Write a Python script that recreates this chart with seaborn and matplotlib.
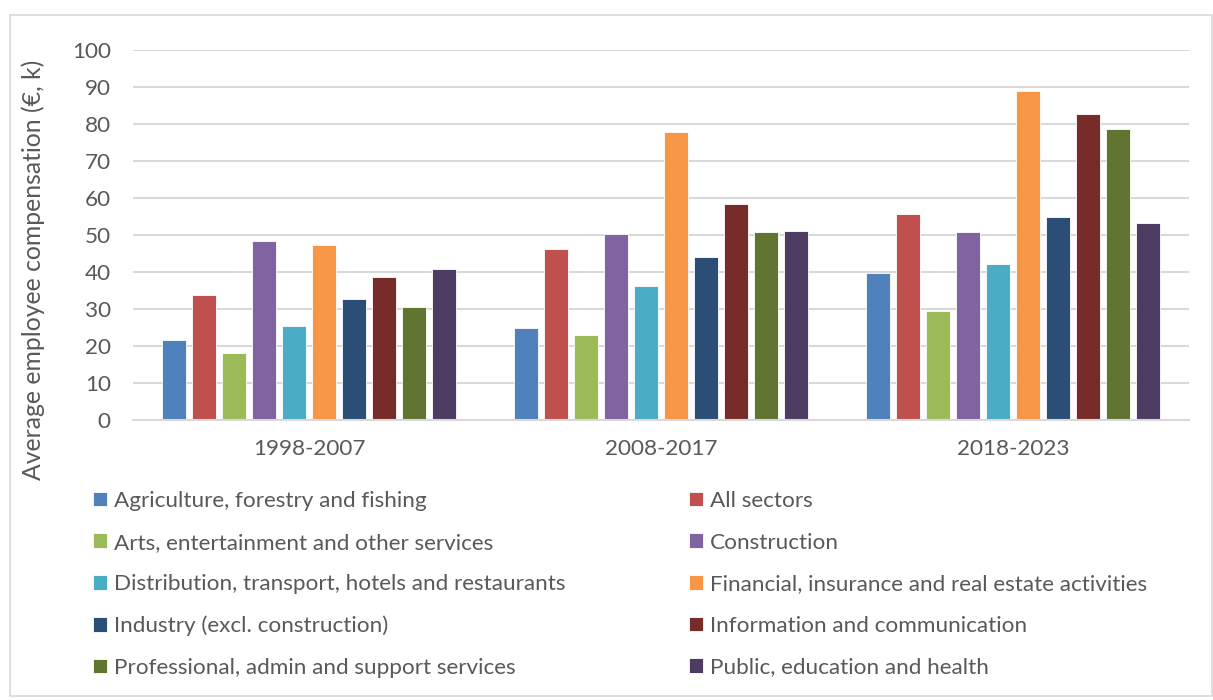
import matplotlib
matplotlib.use("Agg")
import matplotlib.pyplot as plt
from matplotlib.patches import Rectangle
import seaborn as sns
import pandas as pd

periods = ["1998-2007", "2008-2017", "2018-2023"]
sectors = [
    "Agriculture, forestry and fishing",
    "All sectors",
    "Arts, entertainment and other services",
    "Construction",
    "Distribution, transport, hotels and restaurants",
    "Financial, insurance and real estate activities",
    "Industry (excl. construction)",
    "Information and communication",
    "Professional, admin and support services",
    "Public, education and health",
]
agriculture = [21.6, 24.8, 39.7]
all_sectors = [33.7, 46.1, 55.6]
arts = [18.0, 23.1, 29.4]
construction = [48.5, 50.3, 50.7]
distribution = [25.4, 36.2, 42.1]
financial = [47.2, 77.8, 89.0]
industry = [32.6, 44.1, 55.0]
information = [38.6, 58.3, 82.7]
professional = [30.6, 50.7, 78.7]
public = [40.7, 51.0, 53.2]

colors = ["#4F81BD", "#C0504D", "#9BBB59", "#8064A2", "#4BACC6",
          "#F79646", "#2C4D75", "#772C2A", "#5F7530", "#4D3B62"]

series = [agriculture, all_sectors, arts, construction, distribution,
          financial, industry, information, professional, public]
rows = []
for name, vals in zip(sectors, series):
    for p, v in zip(periods, vals):
        rows.append({"period": p, "sector": name, "value": v})
df = pd.DataFrame(rows)

sns.set_theme(style="white")
plt.rcParams["font.family"] = ["Lato", "DejaVu Sans"]
TXT = "#595959"
FS = 16.2

fig = plt.figure(figsize=(12.13, 7.0), dpi=100)
ax = fig.add_axes([133 / 1213, 1 - 420 / 700, (1189 - 133) / 1213, 370 / 700])

sns.barplot(data=df, x="period", y="value", hue="sector", order=periods,
            hue_order=sectors, palette=colors, saturation=1, width=0.85,
            gap=0.2, edgecolor="white", linewidth=0.6, ax=ax, legend=True)

ax.set_ylim(0, 100)
ax.set_yticks(range(0, 101, 10))
ax.yaxis.grid(True, color="#d9d9d9", linewidth=1.5)
ax.set_axisbelow(True)
for s in ["top", "right", "left"]:
    ax.spines[s].set_visible(False)
ax.spines["bottom"].set_color("#d9d9d9")
ax.spines["bottom"].set_linewidth(1.5)
ax.tick_params(axis="y", length=0, pad=16, labelsize=FS, labelcolor=TXT)
ax.tick_params(axis="x", length=0, pad=14, labelsize=FS, labelcolor=TXT)
ax.set_xlabel("")
ax.set_ylabel("")
fig.text(33 / 1213, 1 - 270 / 700, "Average employee compensation (€, k)",
         rotation=90, ha="center", va="center", fontsize=17.8, color=TXT)

handles, labels = ax.get_legend_handles_labels()
ax.get_legend().remove()

leg_kw = dict(frameon=False, fontsize=FS, labelcolor=TXT, handlelength=0.62,
              handleheight=0.62, handletextpad=0.3, labelspacing=0.96,
              borderpad=0, borderaxespad=0, loc="upper left")
left_idx = [0, 2, 4, 6, 8]
right_idx = [1, 3, 5, 7, 9]
fig.legend([handles[i] for i in left_idx], [labels[i] for i in left_idx],
           bbox_to_anchor=(93 / 1213, 1 - 491 / 700), **leg_kw)
fig.legend([handles[i] for i in right_idx], [labels[i] for i in right_idx],
           bbox_to_anchor=(689 / 1213, 1 - 491 / 700), **leg_kw)

fig.patches.append(Rectangle((10 / 1213, 1 - 696 / 700), 1202 / 1213, 681 / 700,
                             transform=fig.transFigure, fill=False,
                             edgecolor="#d9d9d9", linewidth=1.2))

fig.savefig("out.png", dpi=100)
